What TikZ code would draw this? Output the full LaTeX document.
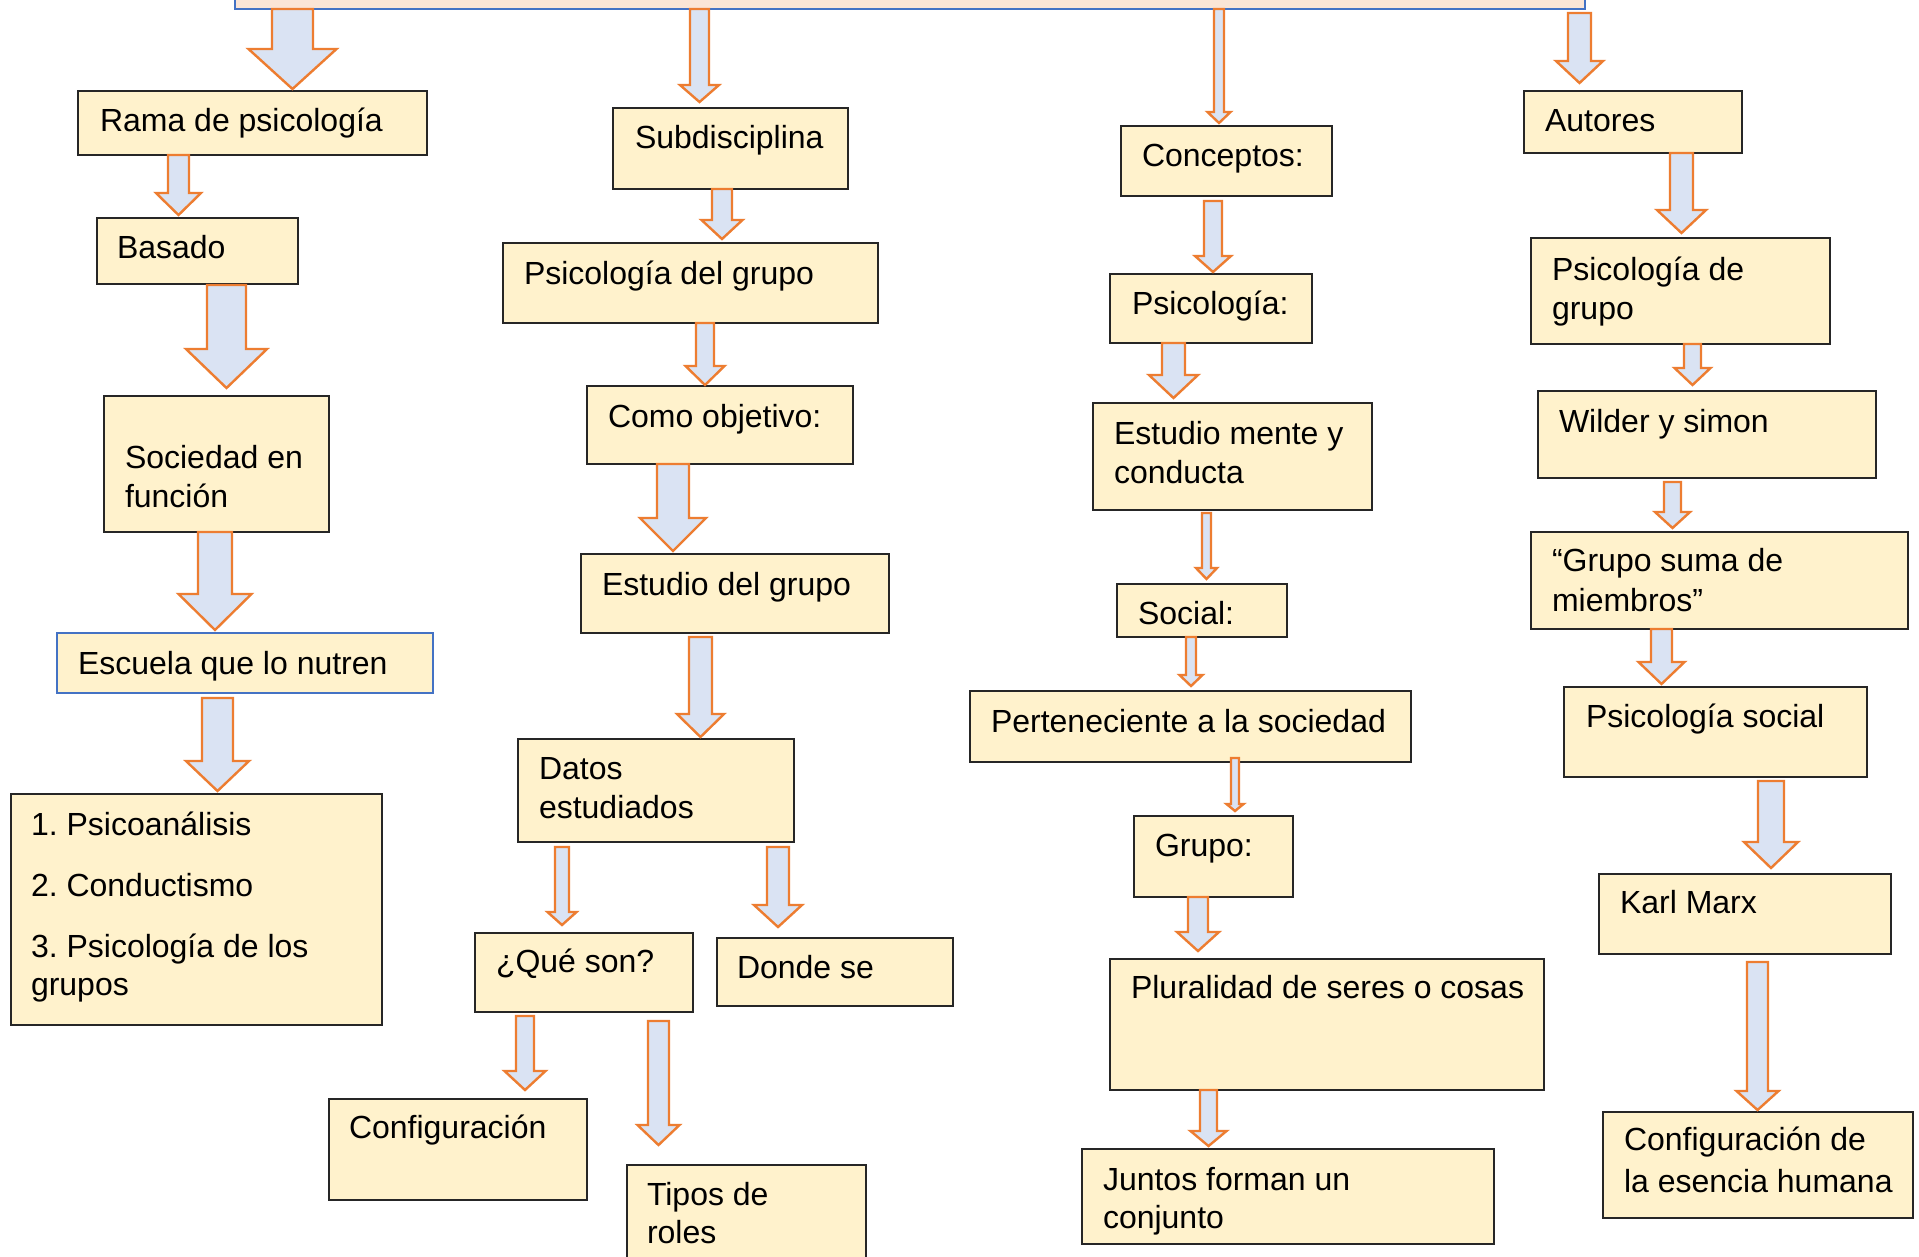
\documentclass[tikz,border=0pt]{standalone}
\usepackage{fontspec}
\setmainfont{Liberation Sans}
\frenchspacing
\definecolor{boxfill}{HTML}{FFF2CC}
\definecolor{boxline}{HTML}{262626}
\definecolor{arrfill}{HTML}{DAE3F3}
\definecolor{arrline}{HTML}{ED7D31}
\definecolor{banfill}{HTML}{FBE5D6}
\definecolor{banline}{HTML}{4472C4}
\tikzset{
  box/.style={draw=boxline, fill=boxfill, line width=1.5pt, inner sep=0pt, outer sep=0pt},
  bluebox/.style={draw=banline, fill=boxfill, line width=1.1pt, inner sep=0pt, outer sep=0pt},
  banner/.style={draw=banline, fill=banfill, line width=2.6pt, inner sep=0pt, outer sep=0pt},
  blk/.style={draw=arrline, fill=arrfill, line width=2.4pt, line join=miter},
  txt/.style={anchor=base west, inner sep=0pt, outer sep=0pt, text=black, font=\fontsize{32}{38}\selectfont}
}
% box: [style]{name}{x1}{y1}{x2}{y2}
\newcommand\bx[6][box]{%
  \pgfmathsetmacro\bw{#5-#3}\pgfmathsetmacro\bh{#6-#4}%
  \node[#1, anchor=north west, minimum width=\bw pt, minimum height=\bh pt] (#2) at (#3,#4) {};}
% text: {name}{x}{baseline}{text}
\newcommand\tx[4]{\node[txt] (#1) at (#2,#3) {#4};}
% block arrow: {cx}{shaft half}{head half}{ytop}{yhead}{ytip}
\newcommand\barr[6]{%
  \draw[blk] ({#1-#2},#4) -- ({#1-#2},#5) -- ({#1-#3},#5) -- (#1,#6) -- ({#1+#3},#5) -- ({#1+#2},#5) -- ({#1+#2},#4) -- cycle;}
\begin{document}
\begin{tikzpicture}[x=1pt,y=-1pt]
\useasboundingbox (0,0) rectangle (1919,1256);
\fill[white] (0,0) rectangle (1919,1256);
\clip (0,0) rectangle (1919,1256);
% banner
\bx[banner]{banner}{235}{-30}{1585}{9}
% column 1
\bx{rama}{78}{91}{427}{155}
\tx{rama-t}{100}{131}{Rama de psicología}
\bx{basado}{97}{218}{298}{284}
\tx{basado-t}{117}{258}{Basado}
\bx{soc}{104}{396}{329}{532}
\tx{soc-t1}{125}{468}{Sociedad en}
\tx{soc-t2}{125}{507}{función}
\bx[bluebox]{esc}{57}{633}{433}{693}
\tx{esc-t}{78}{674}{Escuela que lo nutren}
\bx{lista}{11}{794}{382}{1025}
\tx{lista-t1}{31}{835}{1. Psicoanálisis}
\tx{lista-t2}{31}{896}{2. Conductismo}
\tx{lista-t3}{31}{957}{3. Psicología de los}
\tx{lista-t4}{31}{995}{grupos}
% column 2
\bx{subd}{613}{108}{848}{189}
\tx{subd-t}{635}{148}{Subdisciplina}
\bx{psig}{503}{243}{878}{323}
\tx{psig-t}{524}{284}{Psicología del grupo}
\bx{como}{587}{386}{853}{464}
\tx{como-t}{608}{427}{Como objetivo:}
\bx{estg}{581}{554}{889}{633}
\tx{estg-t}{602}{595}{Estudio del grupo}
\bx{datos}{518}{739}{794}{842}
\tx{datos-t1}{539}{779}{Datos}
\tx{datos-t2}{539}{818}{estudiados}
\bx{que}{475}{933}{693}{1012}
\tx{que-t}{496}{972}{¿Qué son?}
\bx{donde}{717}{938}{953}{1006}
\tx{donde-t}{737}{978}{Donde se}
\bx{config}{329}{1099}{587}{1200}
\tx{config-t}{349}{1138}{Configuración}
\bx{tipos}{627}{1165}{866}{1290}
\tx{tipos-t1}{647}{1205}{Tipos de}
\tx{tipos-t2}{647}{1243}{roles}
% column 3
\bx{conc}{1121}{126}{1332}{196}
\tx{conc-t}{1142}{166}{Conceptos:}
\bx{psi}{1110}{274}{1312}{343}
\tx{psi-t}{1132}{314}{Psicología:}
\bx{emc}{1093}{403}{1372}{510}
\tx{emc-t1}{1114}{444}{Estudio mente y}
\tx{emc-t2}{1114}{483}{conducta}
\bx{social}{1117}{584}{1287}{637}
\tx{social-t}{1138}{624}{Social:}
\bx{pert}{970}{691}{1411}{762}
\tx{pert-t}{991}{732}{Perteneciente a la sociedad}
\bx{grupo}{1134}{816}{1293}{897}
\tx{grupo-t}{1155}{856}{Grupo:}
\bx{plur}{1110}{959}{1544}{1090}
\tx{plur-t}{1131}{998}{Pluralidad de seres o cosas}
\bx{juntos}{1082}{1149}{1494}{1244}
\tx{juntos-t1}{1103}{1190}{Juntos forman un}
\tx{juntos-t2}{1103}{1228}{conjunto}
% column 4
\bx{aut}{1524}{91}{1742}{153}
\tx{aut-t}{1545}{131}{Autores}
\bx{psgr}{1531}{238}{1830}{344}
\tx{psgr-t1}{1552}{280}{Psicología de}
\tx{psgr-t2}{1552}{319}{grupo}
\bx{wild}{1538}{391}{1876}{478}
\tx{wild-t}{1559}{432}{Wilder y simon}
\bx{gsuma}{1531}{532}{1908}{629}
\tx{gsuma-t1}{1552}{571}{“Grupo suma de}
\tx{gsuma-t2}{1552}{611}{miembros”}
\bx{pss}{1564}{687}{1867}{777}
\tx{pss-t}{1586}{727}{Psicología social}
\bx{karl}{1599}{874}{1891}{954}
\tx{karl-t}{1620}{913}{Karl Marx}
\bx{cesen}{1603}{1112}{1913}{1218}
\tx{cesen-t1}{1624}{1150}{Configuración de}
\tx{cesen-t2}{1624}{1192}{la esencia humana}
% block arrows, column 1
\barr{292.5}{20.5}{44}{9}{49}{89}
\barr{178.5}{10.5}{22.5}{155}{193}{215}
\barr{226.5}{19.5}{40.5}{285}{349}{388}
\barr{215}{17}{36.5}{532}{594}{630}
\barr{217.5}{15.5}{31.5}{698}{761}{791}
% column 2
\barr{699.5}{9.5}{19.5}{9}{85}{102}
\barr{722}{10}{20.5}{189}{220}{239}
\barr{705}{9}{19.5}{323}{366}{385}
\barr{673}{16}{33}{464}{518}{551}
\barr{700.5}{11.5}{23.5}{637}{714}{737}
\barr{562}{7}{14.5}{847}{912}{925}
\barr{778}{11}{24}{847}{905}{927}
\barr{525}{9}{20.5}{1016}{1071}{1090}
\barr{658.5}{10.5}{21}{1021}{1125}{1145}
% column 3
\barr{1219}{5}{11.5}{9}{112}{123}
\barr{1213}{9}{18}{201}{256}{272}
\barr{1173.5}{11.5}{24.5}{343}{375}{398}
\barr{1206.5}{4.5}{10.5}{513}{568}{579}
\barr{1191}{5}{11.5}{637}{675}{686}
\barr{1235}{4}{8.5}{758}{804}{811}
\barr{1198}{10}{21}{897}{932}{951}
\barr{1208.5}{8.5}{18}{1090}{1131}{1146}
% column 4
\barr{1579.5}{11.5}{23.5}{13}{61}{83}
\barr{1681.5}{11.5}{24.5}{153}{210}{233}
\barr{1692.5}{8.5}{18}{344}{368}{385}
\barr{1672.5}{8.5}{17.5}{482}{512}{528}
\barr{1661.5}{10.5}{23}{629}{662}{684}
\barr{1771}{13}{27}{781}{842}{868}
\barr{1757.5}{10.5}{21}{962}{1091}{1110}
\end{tikzpicture}
\end{document}
